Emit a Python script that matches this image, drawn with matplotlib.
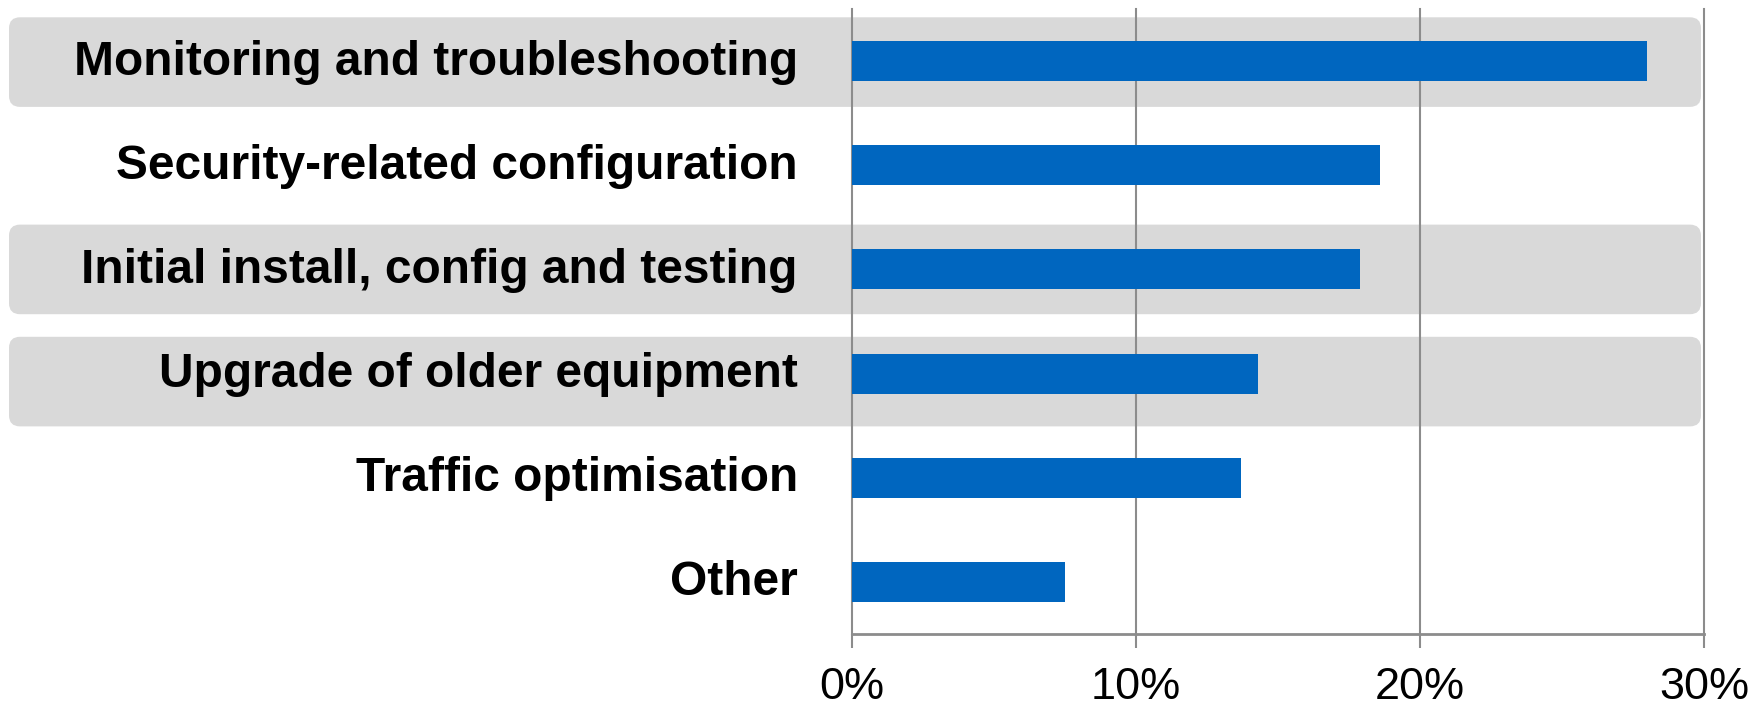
import matplotlib
matplotlib.use("Agg")
import matplotlib.pyplot as plt
import matplotlib.ticker as mticker
import matplotlib.transforms as mtransforms
from matplotlib.patches import FancyBboxPatch

# ── data ─────────────────────────────────────────────────────────────────────
categories = [
    "Monitoring and troubleshooting",
    "Security-related configuration",
    "Initial install, config and testing",
    "Upgrade of older equipment",
    "Traffic optimisation",
    "Other",
]
values = [28.0, 18.6, 17.9, 14.3, 13.7, 7.5]   # percent
highlighted = [0, 2, 3]                         # rows with grey band
x_ticks = [0, 10, 20, 30]

BLUE = "#0066bf"
BAND = "#d9d9d9"
GRID = "#8c8c8c"

plt.rcParams["font.family"] = ["Liberation Sans", "DejaVu Sans"]

W, H = 1754, 711
fig = plt.figure(figsize=(W / 100, H / 100), dpi=100)
ax_l, ax_r, ax_t, ax_b = 852, 1704, 9, 634
ax = fig.add_axes([ax_l / W, 1 - ax_b / H, (ax_r - ax_l) / W, (ax_b - ax_t) / H])

y = list(range(len(categories)))
ax.barh(y, values, height=0.385, color=BLUE, zorder=3)

ax.set_xlim(0, 30)
ax.set_ylim(len(categories) - 0.5, -0.5)

# grey rounded bands behind highlighted rows (extend into the label area)
px_per_x = (ax_r - ax_l) / 30
px_per_y = (ax_b - ax_t) / len(categories)
left_x = (9 - ax_l) / px_per_x
right_x = 30 - 3 / px_per_x
band_nudge_px = {0: 1, 2: 0, 3: 8}   # the bands are not quite centred on rows
for i in highlighted:
    yc = i + band_nudge_px[i] / px_per_y
    band = FancyBboxPatch(
        (left_x, yc - 0.43), right_x - left_x, 0.86,
        boxstyle=f"round,pad=0,rounding_size={11 / px_per_x:.3f}",
        mutation_aspect=px_per_x / px_per_y,
        facecolor=BAND, edgecolor="none", zorder=0, clip_on=False,
    )
    ax.add_patch(band)

ax.set_xticks(x_ticks)
ax.xaxis.set_major_formatter(mticker.FuncFormatter(lambda v, _: f"{v:.0f}%"))
ax.grid(axis="x", color=GRID, linewidth=1.5, zorder=1)
ax.set_axisbelow(False)
for gl in ax.get_xgridlines():
    gl.set_clip_on(False)
    gl.set_zorder(1)

ax.set_yticks(y)
ax.set_yticklabels(categories, fontsize=34.5, fontweight="bold")
ax.tick_params(axis="y", length=0, pad=39)
ax.tick_params(axis="x", direction="out", length=10, width=1.5, color=GRID,
               labelsize=32.5, pad=14)

# nudge category labels up a few pixels
shift = mtransforms.ScaledTranslation(0, 4 / 100, fig.dpi_scale_trans)
for lbl in ax.get_yticklabels():
    lbl.set_transform(lbl.get_transform() + shift)

for s in ("top", "right", "left"):
    ax.spines[s].set_visible(False)
ax.spines["bottom"].set_color(GRID)
ax.spines["bottom"].set_linewidth(2)
ax.spines["bottom"].set_zorder(2)
ax.patch.set_alpha(0)

fig.savefig("out.png", dpi=100)
